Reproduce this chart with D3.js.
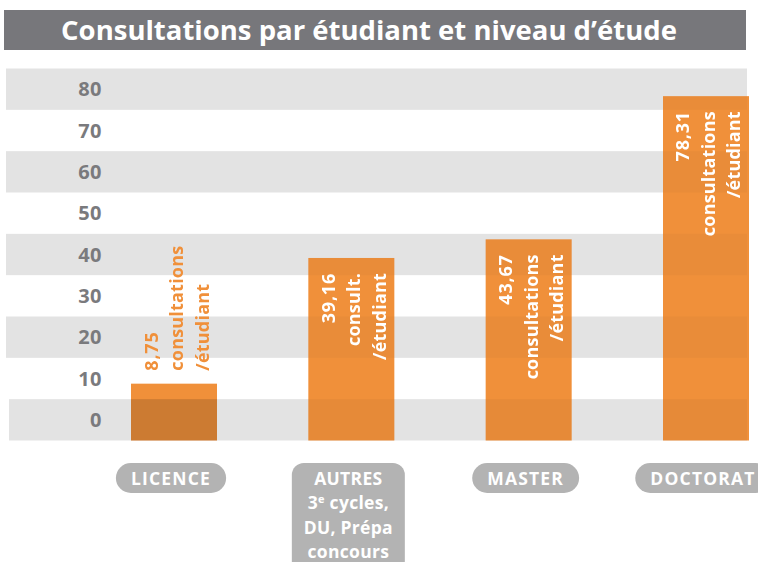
<!DOCTYPE html>
<html lang="fr">
<head>
    <meta charset="UTF-8">
    <title>Consultations par étudiant et niveau d'étude</title>
    <script src="https://d3js.org/d3.v7.min.js"></script>
    <style>
        body { margin: 0; background: #fff; }
        svg { display: block; font-family: "Open Sans", sans-serif; }
    </style>
</head>
<body>
    <script>
        // Data
        const categories = ["LICENCE", "AUTRES", "MASTER", "DOCTORAT"];
        const values = [8.75, 39.16, 43.67, 78.31];
        const valueLabels = ["8,75", "39,16", "43,67", "78,31"];
        const unitLabels = [
            ["consultations", "/étudiant"],
            ["consult.", "/étudiant"],
            ["consultations", "/étudiant"],
            ["consultations", "/étudiant"]
        ];
        const categoryLines = [
            ["LICENCE"],
            ["AUTRES", "3e cycles,", "DU, Prépa", "concours"],
            ["MASTER"],
            ["DOCTORAT"]
        ];
        const tickValues = [0, 10, 20, 30, 40, 50, 60, 70, 80];
        const title = "Consultations par étudiant et niveau d’étude";

        const width = 758, height = 562;
        const orange = "#f0903a";
        const bandGrey = "#e3e3e3";

        const svg = d3.select("body").append("svg")
            .attr("width", width)
            .attr("height", height);

        // Title bar
        svg.append("rect")
            .attr("x", 4).attr("y", 10)
            .attr("width", 742).attr("height", 40)
            .attr("fill", "#77777b");
        svg.append("text")
            .attr("x", 369).attr("y", 39.5)
            .attr("text-anchor", "middle")
            .attr("fill", "#fff")
            .attr("font-size", 27.5)
            .attr("font-weight", 700)
            .text(title);

        // Scales: tick labels sit in the middle of each band
        const y = d3.scaleLinear().domain([-5, 85]).range([440.5, 68.5]);
        const x = d3.scaleBand().domain(categories)
            .range([131, 749]).paddingInner(0.515).paddingOuter(0);

        // Alternating bands
        const bands = svg.append("g");
        bands.selectAll("rect")
            .data(tickValues)
            .join("rect")
            .attr("x", d => d === 0 ? 9 : 6)
            .attr("y", d => y(d + 5))
            .attr("width", d => d === 0 ? 738 : 741)
            .attr("height", d => y(d - 5) - y(d + 5))
            .attr("fill", (d, i) => i % 2 === 0 ? bandGrey : "none");

        // Tick labels
        svg.append("g").selectAll("text")
            .data(tickValues)
            .join("text")
            .attr("x", 102)
            .attr("y", d => y(d))
            .attr("dy", "0.36em")
            .attr("text-anchor", "end")
            .attr("fill", "#7a7a7d")
            .attr("font-size", 20)
            .attr("font-weight", 700)
            .attr("letter-spacing", 0.5)
            .text(d => d);

        // Bars
        const base = y(-5);
        const barG = svg.append("g");
        barG.selectAll("rect")
            .data(values)
            .join("rect")
            .attr("x", (d, i) => x(categories[i]))
            .attr("y", d => y(d))
            .attr("width", x.bandwidth())
            .attr("height", d => base - y(d))
            .attr("fill", orange);

        // faint band shading on top of bars
        const clip = svg.append("clipPath").attr("id", "barclip");
        clip.selectAll("rect")
            .data(values)
            .join("rect")
            .attr("x", (d, i) => x(categories[i]))
            .attr("y", d => y(d))
            .attr("width", x.bandwidth())
            .attr("height", d => base - y(d));
        svg.append("g")
            .attr("clip-path", "url(#barclip)")
            .style("mix-blend-mode", "multiply")
            .selectAll("rect")
            .data(tickValues.filter((d, i) => i % 2 === 0))
            .join("rect")
            .attr("x", 6)
            .attr("y", d => y(d + 5))
            .attr("width", 741)
            .attr("height", d => y(d - 5) - y(d + 5))
            .attr("fill", bandGrey)
            .attr("opacity", d => d === 0 ? 0.35 : 0.25);
        // the bottom band covers the LICENCE bar more strongly
        svg.append("rect")
            .attr("x", x(categories[0]))
            .attr("y", y(5))
            .attr("width", x.bandwidth())
            .attr("height", y(-5) - y(5))
            .attr("fill", bandGrey)
            .style("mix-blend-mode", "multiply");

        // Value labels, rotated
        const lineGap = 25.5;
        values.forEach((v, i) => {
            const cx = x(categories[i]) + x.bandwidth() / 2 + 2;
            const lines = [valueLabels[i]].concat(unitLabels[i]);
            const outside = i === 0;
            const ty = outside ? y(v) - 13 : y(v) + 15;
            const g = svg.append("g");
            lines.forEach((t, j) => {
                g.append("text")
                    .attr("transform", `translate(${cx + (j - 1) * lineGap},${ty}) rotate(-90)`)
                    .attr("text-anchor", outside ? "start" : "end")
                    .attr("dominant-baseline", "central")
                    .attr("fill", outside ? orange : "#fff")
                    .attr("font-size", 18)
                    .attr("font-weight", 700)
                    .attr("letter-spacing", j === 0 ? 0.8 : 0.2)
                    .text(t);
            });
        });

        // Category pills
        const pillTop = 463;
        categoryLines.forEach((lines, i) => {
            const cx = x(categories[i]) + x.bandwidth() / 2 - 3;
            const g = svg.append("g");
            const rect = g.append("rect").attr("fill", "#b3b3b3");
            const texts = g.selectAll("text")
                .data(lines)
                .join("text")
                .attr("x", cx)
                .attr("y", (d, j) => pillTop + 21.5 + j * 24.5)
                .attr("text-anchor", "middle")
                .attr("fill", "#fff")
                .attr("font-size", 17.5)
                .attr("font-weight", 700)
                .attr("letter-spacing", lines.length > 1 ? 0.3 : 1.2);
            texts.each(function(d) {
                const el = d3.select(this);
                if (d.startsWith("3e")) {
                    el.append("tspan").text("3");
                    el.append("tspan").attr("font-size", 11).attr("dy", -6).text("e");
                    el.append("tspan").attr("dy", 6).text(" cycles,");
                } else {
                    el.text(d);
                }
            });
            const w = d3.max(texts.nodes(), n => n.getComputedTextLength());
            if (lines.length > 1) {
                rect.attr("x", cx - 56.5).attr("y", pillTop)
                    .attr("width", 113).attr("height", 110).attr("rx", 12);
            } else {
                rect.attr("x", cx - w / 2 - 15).attr("y", pillTop)
                    .attr("width", w + 30).attr("height", 30).attr("rx", 15);
            }
        });
    </script>
</body>
</html>
